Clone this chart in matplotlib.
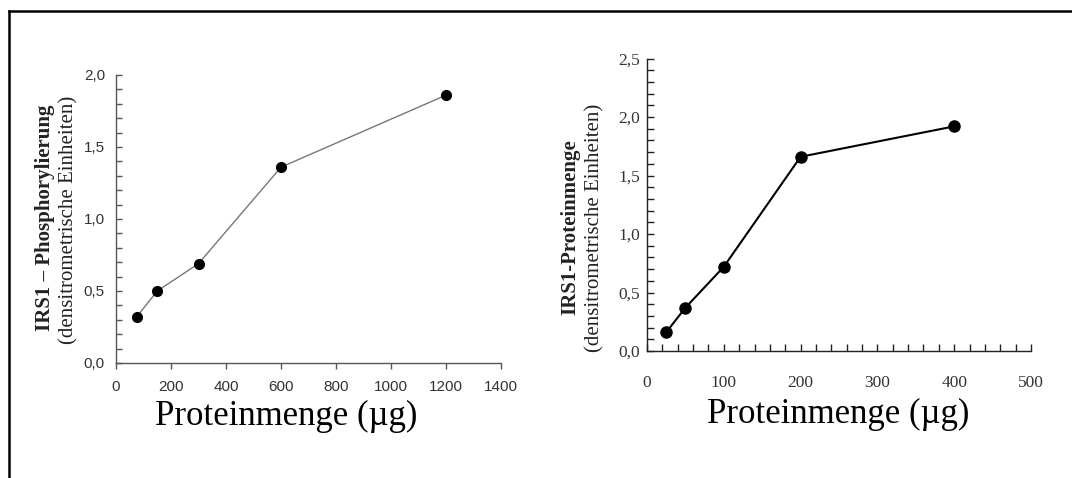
import matplotlib
matplotlib.use("Agg")
import matplotlib.pyplot as plt
from matplotlib.lines import Line2D
from matplotlib.ticker import MultipleLocator, FuncFormatter

plt.rcParams["font.family"] = ["Liberation Sans", "DejaVu Sans"]

# ---- data ----
left_x = [75, 150, 300, 600, 1200]
left_y = [0.32, 0.50, 0.69, 1.36, 1.86]
right_x = [25, 50, 100, 200, 400]
right_y = [0.16, 0.37, 0.72, 1.66, 1.92]

left_ylabel_bold = "IRS1 \u2013 Phosphorylierung"
right_ylabel_bold = "IRS1-Proteinmenge"
ylabel_sub = "(densitrometrische Einheiten)"
xlabel = "Proteinmenge (\u00b5g)"

W, H = 1072, 478
fig = plt.figure(figsize=(W / 100, H / 100), dpi=100)
fig.patch.set_facecolor("white")

def fx(px):
    return px / W

def fy(py):
    return 1 - py / H

comma = FuncFormatter(lambda v, p: f"{v:.1f}".replace(".", ","))

# ---- left panel ----
axL = fig.add_axes([fx(116), fy(363), fx(501) - fx(116), fy(75) - fy(363)])
axL.plot(left_x, left_y, color="#777777", lw=1.0, marker="o", ms=7,
         mfc="black", mec="black", zorder=3)
axL.set_xlim(0, 1400)
axL.set_ylim(0, 2.0)
axL.xaxis.set_major_locator(MultipleLocator(200))
axL.yaxis.set_major_locator(MultipleLocator(0.5))
axL.yaxis.set_minor_locator(MultipleLocator(0.1))
axL.yaxis.set_major_formatter(comma)
for s in ["top", "right"]:
    axL.spines[s].set_visible(False)
for s in ["left", "bottom"]:
    axL.spines[s].set_color("#555555")
    axL.spines[s].set_linewidth(1.0)
axL.tick_params(axis="x", which="major", direction="out", length=4, width=1,
                color="#555555", pad=8, labelsize=11, labelcolor="#333333")
axL.tick_params(axis="y", which="both", direction="in", length=4, width=1,
                color="#555555", pad=8, labelsize=11, labelcolor="#333333")

# ---- right panel ----
axR = fig.add_axes([fx(647), fy(351), fx(1031) - fx(647), fy(58.5) - fy(351)])
axR.plot(right_x, right_y, color="black", lw=1.5, marker="o", ms=8,
         mfc="black", mec="black", zorder=3)
axR.set_xlim(0, 500)
axR.set_ylim(0, 2.5)
axR.xaxis.set_major_locator(MultipleLocator(100))
axR.xaxis.set_minor_locator(MultipleLocator(20))
axR.yaxis.set_major_locator(MultipleLocator(0.5))
axR.yaxis.set_minor_locator(MultipleLocator(0.1))
axR.yaxis.set_major_formatter(comma)
for s in ["top", "right"]:
    axR.spines[s].set_visible(False)
for s in ["left", "bottom"]:
    axR.spines[s].set_color("#222222")
    axR.spines[s].set_linewidth(1.0)
axR.tick_params(axis="x", which="both", direction="in", length=5, width=1,
                color="#222222", pad=17, labelsize=12.5, labelcolor="#333333",
                labelfontfamily="Liberation Serif")
axR.tick_params(axis="y", which="both", direction="in", length=5, width=1,
                color="#222222", pad=5, labelsize=12.5, labelcolor="#333333",
                labelfontfamily="Liberation Serif")

# ---- y labels ----
serif = "Liberation Serif"
fig.text(fx(45), fy(218), left_ylabel_bold, rotation=90, ha="center", va="center",
         fontsize=15, fontweight="bold", family=serif, color="#222222")
fig.text(fx(69), fy(220), ylabel_sub, rotation=90, ha="center", va="center",
         fontsize=15, family=serif, color="#222222")
fig.text(fx(570), fy(227), right_ylabel_bold, rotation=90, ha="center", va="center",
         fontsize=15, fontweight="bold", family=serif, color="#222222")
fig.text(fx(595), fy(228), ylabel_sub, rotation=90, ha="center", va="center",
         fontsize=15, family=serif, color="#222222")

# ---- x labels ----
fig.text(fx(286), fy(416), xlabel, ha="center", va="center", fontsize=25,
         family=serif, color="black")
fig.text(fx(838), fy(414), xlabel, ha="center", va="center", fontsize=25,
         family=serif, color="black")

# ---- frame (top and left lines) ----
fig.add_artist(Line2D([fx(9), 1.0], [fy(10.5), fy(10.5)], color="black", lw=1.8,
                      transform=fig.transFigure))
fig.add_artist(Line2D([fx(9), fx(9)], [0.0, fy(10.5)], color="black", lw=1.8,
                      transform=fig.transFigure))

fig.savefig("out.png", dpi=100, facecolor="white")
